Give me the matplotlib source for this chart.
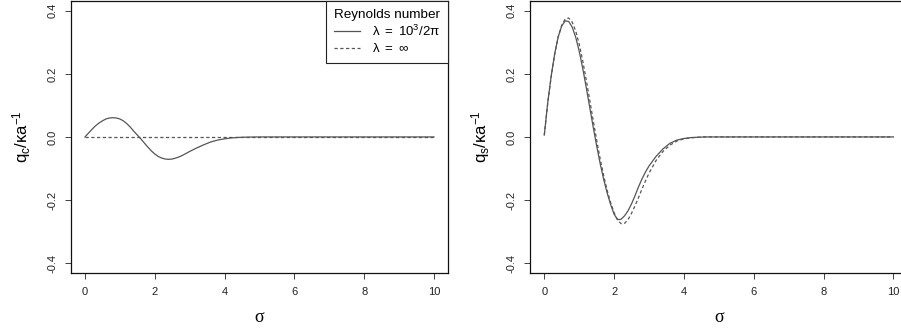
import matplotlib
matplotlib.use("Agg")
import matplotlib.pyplot as plt

plt.rcParams['font.family'] = ['Liberation Sans', 'DejaVu Sans']
plt.rcParams['mathtext.fontset'] = 'custom'
plt.rcParams['mathtext.rm'] = 'Liberation Sans'
plt.rcParams['mathtext.it'] = 'Liberation Sans'
plt.rcParams['mathtext.default'] = 'regular'

# sigma grid
sigma = [0.0, 0.1, 0.2, 0.3, 0.4, 0.5, 0.6, 0.7, 0.8, 0.9,
         1.0, 1.1, 1.2, 1.3, 1.4, 1.5, 1.6, 1.7, 1.8, 1.9,
         2.0, 2.1, 2.2, 2.3, 2.4, 2.5, 2.6, 2.7, 2.8, 2.9,
         3.0, 3.2, 3.4, 3.6, 3.8, 4.0, 4.2, 4.4, 4.6, 4.8,
         5.0, 6.0, 7.0, 8.0, 9.0, 10.0]

# q_c, finite Reynolds number
qc_finite = [0.0, 0.012, 0.024, 0.035, 0.044, 0.051, 0.057, 0.060, 0.061, 0.060,
             0.057, 0.051, 0.042, 0.031, 0.018, 0.006, -0.006, -0.019, -0.032, -0.044,
             -0.054, -0.062, -0.067, -0.070, -0.071, -0.070, -0.067, -0.063, -0.058, -0.052,
             -0.046, -0.035, -0.025, -0.016, -0.010, -0.006, -0.003, -0.0015, -0.0007, -0.0003,
             0.0, 0.0, 0.0, 0.0, 0.0, 0.0]
# q_c, infinite Reynolds number
qc_inf = [0.0] * len(sigma)

# q_s, finite Reynolds number
qs_finite = [0.006, 0.110, 0.195, 0.265, 0.318, 0.352, 0.368, 0.366, 0.348, 0.316,
             0.272, 0.218, 0.158, 0.095, 0.032, -0.028, -0.084, -0.134, -0.177, -0.214,
             -0.245, -0.262, -0.261, -0.250, -0.234, -0.212, -0.186, -0.158, -0.133, -0.111,
             -0.092, -0.062, -0.038, -0.020, -0.010, -0.005, -0.002, -0.001, 0.0, 0.0,
             0.0, 0.0, 0.0, 0.0, 0.0, 0.0]
# q_s, infinite Reynolds number
qs_inf = [0.006, 0.108, 0.193, 0.263, 0.318, 0.354, 0.374, 0.377, 0.364, 0.336,
          0.294, 0.242, 0.182, 0.118, 0.053, -0.010, -0.069, -0.122, -0.169, -0.208,
          -0.240, -0.263, -0.275, -0.274, -0.262, -0.242, -0.218, -0.192, -0.165, -0.139,
          -0.115, -0.075, -0.046, -0.026, -0.013, -0.006, -0.003, -0.001, 0.0, 0.0,
          0.0, 0.0, 0.0, 0.0, 0.0, 0.0]

xticks = [0, 2, 4, 6, 8, 10]
yticks = [-0.4, -0.2, 0.0, 0.2, 0.4]
ytick_labels = ["-0.4", "-0.2", "0.0", "0.2", "0.4"]

line_col = '#555555'
dash = (0, (2.6, 2.0))

fig = plt.figure(figsize=(9.01, 3.34), dpi=100)
ax1 = fig.add_axes([0.0788, 0.182, 0.4184, 0.816])
ax2 = fig.add_axes([0.5886, 0.182, 0.4184, 0.816])


def style(ax, ylab):
    ax.set_xlim(-0.4, 10.4)
    ax.set_ylim(-0.432, 0.432)
    ax.set_xticks(xticks)
    ax.set_yticks(yticks)
    ax.set_yticklabels(ytick_labels, rotation=90, va='center')
    ax.tick_params(direction='out', length=4.3, width=0.6, labelsize=8,
                   pad=5.5, colors='#222222')
    for s in ax.spines.values():
        s.set_linewidth(0.9)
        s.set_color('#111111')
    ax.set_xlabel('σ', family='Liberation Serif', fontsize=13)
    ax.xaxis.set_label_coords(0.5, -0.164)
    ax.xaxis.label.set_va('center')
    ax.set_ylabel(ylab, fontsize=12)
    ax.yaxis.set_label_coords(-0.132, 0.5)
    ax.yaxis.label.set_va('center')
    ax.yaxis.label.set_ha('center')


ax1.plot(sigma, qc_finite, color=line_col, lw=0.9, label=r'$\lambda\ =\ 10^3/2\pi$')
ax1.plot(sigma, qc_inf, color=line_col, lw=0.9, ls=dash, label=r'$\lambda\ =\ \infty$')
style(ax1, r'$q_c/\kappa a^{-1}$')

leg = ax1.legend(loc='upper right', title='Reynolds number', fontsize=9.5,
                 title_fontsize=9.7, borderaxespad=0, fancybox=False,
                 edgecolor='#222222', framealpha=1, handlelength=2.0,
                 handletextpad=0.9, labelspacing=0.25, borderpad=0.6)
leg.get_frame().set_linewidth(0.8)

ax2.plot(sigma, qs_finite, color=line_col, lw=0.9)
ax2.plot(sigma, qs_inf, color=line_col, lw=0.9, ls=dash)
style(ax2, r'$q_s/\kappa a^{-1}$')

plt.savefig('out.png', dpi=100)
